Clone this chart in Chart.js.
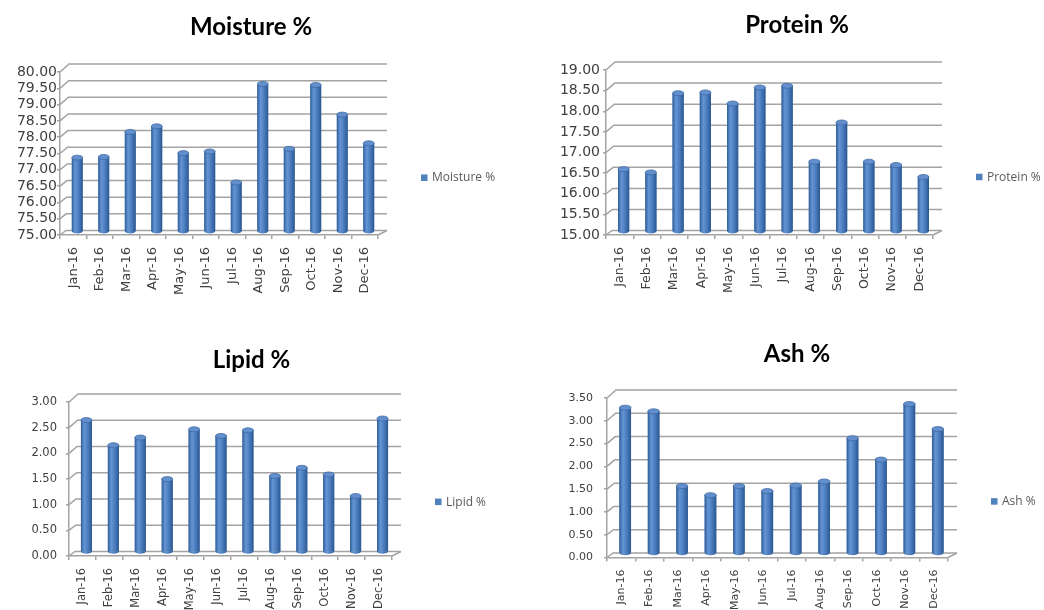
<!DOCTYPE html>
<html>
<head>
<meta charset="utf-8">
<script src="https://cdn.jsdelivr.net/npm/chart.js@4.4.1/dist/chart.umd.min.js"></script>
<style>
  body { margin: 0; background: #fff; }
  #wrap { position: relative; width: 1044px; height: 610px; overflow: hidden; background: #fff; }
  canvas { position: absolute; }
</style>
</head>
<body>
<div id="wrap">
  <canvas id="moisture" width="502" height="305" style="left:0;top:0"></canvas>
  <canvas id="protein" width="494" height="305" style="left:550px;top:0"></canvas>
  <canvas id="lipid" width="503" height="305" style="left:0;top:305px"></canvas>
  <canvas id="ash" width="494" height="305" style="left:550px;top:305px"></canvas>
</div>
<script>
// data
const months = ['Jan-16', 'Feb-16', 'Mar-16', 'Apr-16', 'May-16', 'Jun-16',
                'Jul-16', 'Aug-16', 'Sep-16', 'Oct-16', 'Nov-16', 'Dec-16'];
const moisture = [77.25, 77.27, 78.04, 78.21, 77.39, 77.44, 76.49, 79.51, 77.52, 79.48, 78.57, 77.69];
const protein  = [16.50, 16.42, 18.34, 18.36, 18.09, 18.48, 18.52, 16.68, 17.63, 16.68, 16.60, 16.31];
const lipid    = [2.57, 2.08, 2.23, 1.42, 2.39, 2.26, 2.37, 1.48, 1.64, 1.51, 1.09, 2.60];
const ash      = [3.20, 3.12, 1.48, 1.28, 1.48, 1.37, 1.49, 1.58, 2.53, 2.06, 3.28, 2.73];

// axis ranges [min, max, step]
const moistureRange = [75, 80, 0.5];
const proteinRange  = [15, 19, 0.5];
const lipidRange    = [0, 3, 0.5];
const ashRange      = [0, 3.5, 0.5];

const barBlue = '#4f81bd';
const gridColor = '#a3a3a3';

// back wall + floor of the Excel style 3D plot, bars pushed half a depth back
const wall3d = {
  id: 'wall3d',
  beforeDatasetsDraw(chart) {
    const { ctx, chartArea: a, scales: { y } } = chart;
    ctx.save();
    ctx.strokeStyle = gridColor;
    ctx.lineWidth = 1.5;
    y.ticks.forEach(t => {
      const py = y.getPixelForValue(t.value);
      const f = (a.bottom - py) / (a.bottom - a.top);
      const dx = 6 + 3 * f, dy = 4.5 + 3.5 * f;
      ctx.beginPath();
      ctx.moveTo(a.left, py);
      ctx.lineTo(a.left + dx, py - dy);
      ctx.lineTo(a.right + 9, py - dy);
      ctx.stroke();
    });
    ctx.beginPath();
    ctx.moveTo(a.right, a.bottom);
    ctx.lineTo(a.right + 9, a.bottom - 4.5);
    ctx.stroke();
    ctx.restore();
    ctx.save();
    ctx.translate(4, -4);
  },
  afterDatasetsDraw(chart) {
    const ctx = chart.ctx;
    const floor = chart.chartArea.bottom;
    chart.getDatasetMeta(0).data.forEach(bar => {
      const p = bar.getProps(['x', 'y', 'base', 'width'], true);
      const x = p.x, y = p.y, width = p.width;
      const base = Math.min(p.base, floor);
      const l = x - width / 2, r = x + width / 2;
      const g = ctx.createLinearGradient(l, 0, r, 0);
      g.addColorStop(0, '#2f5d98');
      g.addColorStop(0.3, '#6595d4');
      g.addColorStop(0.6, '#4c7fc1');
      g.addColorStop(1, '#2c5790');
      ctx.fillStyle = g;
      ctx.fillRect(l, y, width, base - y);
      // rounded base
      ctx.beginPath();
      ctx.ellipse(x, base, width / 2, 2.5, 0, 0, Math.PI);
      ctx.fill();
      // top cap
      ctx.beginPath();
      ctx.ellipse(x, y, width / 2, 2.5, 0, 0, Math.PI * 2);
      ctx.fillStyle = '#6390cd';
      ctx.fill();
      ctx.strokeStyle = '#3d6aa5';
      ctx.lineWidth = 0.8;
      ctx.stroke();
    });
    ctx.restore();
  }
};

// small Excel style legend to the right of the plot
const sideLegend = {
  id: 'sideLegend',
  afterDraw(chart) {
    const { ctx, chartArea: a } = chart;
    const cy = a.top + 0.65 * (a.bottom - a.top);
    const x0 = a.right + 43;
    ctx.save();
    ctx.fillStyle = barBlue;
    ctx.fillRect(x0, cy - 3.5, 6.5, 6.5);
    ctx.fillStyle = '#595959';
    ctx.font = '12px "Open Sans"';
    ctx.textBaseline = 'middle';
    ctx.fillText(chart.data.datasets[0].label, x0 + 11, cy);
    ctx.restore();
  }
};

function makeChart(id, title, values, range, geo) {
  const [min, max, step] = range;
  return new Chart(document.getElementById(id), {
    type: 'bar',
    data: {
      labels: months,
      datasets: [{
        label: title,
        data: values,
        backgroundColor: barBlue,
        borderWidth: 0,
        categoryPercentage: 1,
        barPercentage: 0.41
      }]
    },
    options: {
      responsive: false,
      animation: false,
      layout: { padding: 0 },
      plugins: {
        legend: { display: false },
        tooltip: { enabled: false },
        title: {
          display: true,
          text: title,
          color: '#000',
          font: { family: 'Lato', size: 24, weight: 'bold', lineHeight: 1.2 },
          padding: { top: geo.titleTop, bottom: geo.titleBottom }
        }
      },
      scales: {
        x: {
          grid: { drawOnChartArea: false, drawTicks: true, tickLength: 4, color: gridColor, lineWidth: 1.5 },
          border: { display: true, color: gridColor, width: 1.5 },
          ticks: { color: '#404040', font: { family: 'DejaVu Sans', size: geo.xFont },
                   minRotation: 90, maxRotation: 90, autoSkip: false, padding: 8 },
          afterFit: s => { s.height = geo.xh; }
        },
        y: {
          min: min,
          max: max,
          grid: { drawOnChartArea: false, drawTicks: true, tickLength: 3, color: gridColor, lineWidth: 1.5 },
          border: { display: true, color: gridColor, width: 1.5 },
          ticks: { stepSize: step, autoSkip: false, color: '#404040', padding: geo.yPad,
                   font: { family: 'DejaVu Sans', size: geo.yFont },
                   callback: v => Number(v).toFixed(2) },
          afterFit: s => { s.width = geo.yw; }
        },
        pad: {
          type: 'linear',
          position: 'right',
          grid: { display: false },
          border: { display: false },
          ticks: { display: false },
          afterFit: s => { s.width = geo.right; }
        }
      }
    },
    plugins: [wall3d, sideLegend]
  });
}

makeChart('moisture', 'Moisture %', moisture, moistureRange,
  { titleTop: 12.6, titleBottom: 30.6, xh: 70, yw: 60, right: 124, xFont: 13, yFont: 14, yPad: 0 });
makeChart('protein', 'Protein %', protein, proteinRange,
  { titleTop: 10.6, titleBottom: 30.6, xh: 70, yw: 56, right: 111, xFont: 12.5, yFont: 14, yPad: 3 });
makeChart('lipid', 'Lipid %', lipid, lipidRange,
  { titleTop: 40.6, titleBottom: 27.6, xh: 54, yw: 69, right: 111, xFont: 11.5, yFont: 11.5, yPad: 9 });
makeChart('ash', 'Ash %', ash, ashRange,
  { titleTop: 34.6, titleBottom: 29.6, xh: 52.5, yw: 57, right: 96, xFont: 11, yFont: 11, yPad: 11 });
</script>
</body>
</html>
